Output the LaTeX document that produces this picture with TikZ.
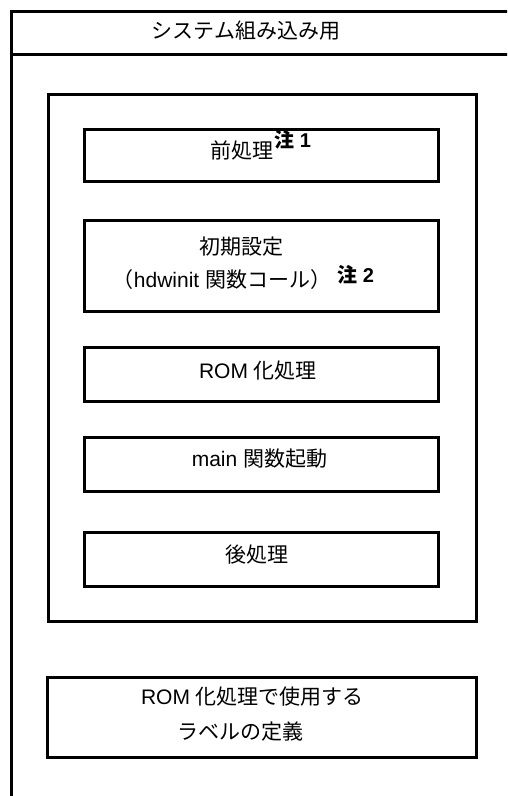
\documentclass[tikz,border=0pt]{standalone}
\usepackage{fontspec}
\setmainfont{Liberation Sans}
\newfontfamily\jp{Noto Sans CJK JP}
\usetikzlibrary{positioning}
\tikzset{
  frame/.style={draw=black,line width=3pt},
  procbox/.style={frame,minimum width=354pt,minimum height=54pt,inner sep=0pt},
  txt/.style={font=\fontsize{21}{25}\selectfont,inner sep=0pt},
  note/.style={font=\fontsize{20}{24}\selectfont\bfseries,inner sep=0pt},
}

\begin{document}
\begin{tikzpicture}[x=1pt,y=-1pt]
\useasboundingbox (0,0) rectangle (507,796);\clip (0,0) rectangle (507,796);
% outer frame, cut by the page
\draw[frame] (11.5,806) -- (11.5,11) -- (517,11);\draw[frame] (11.5,54) -- (517,54);
\node[txt] (title) at (246,31) {\jp システム組み込み用};
% start-up routine
\node[frame,minimum width=428pt,minimum height=527pt,inner sep=0pt] (startup) at (262,357.5) {};
\node[procbox,minimum height=52pt] (pre) at (261,155.5) {};
\node[txt] (pretext) at (242,150) {\jp 前処理};
\node[note,anchor=west] (note1) at (274,140) {{\jp 注} 1};
\node[procbox,minimum height=91pt] (init) at (261,265.5) {};
\node[txt] (inittext) at (241,247) {\jp 初期設定};
\node[txt] (initcall) at (222,280) {{\jp （}hdwinit {\jp 関数コール）}};
\node[note,anchor=west] (note2) at (337,275) {{\jp 注} 2};
\node[procbox] (rom) at (261,374) {};
\node[txt] (romtext) at (258,371) {ROM {\jp 化処理}};
\node[procbox] (main) at (261,464) {};
\node[txt] (maintext) at (259.5,459) {main {\jp 関数起動}};
\node[procbox] (post) at (261,559) {};
\node[txt] (posttext) at (257,555) {\jp 後処理};
% label definitions
\node[frame,minimum width=428.5pt,minimum height=80pt,inner sep=0pt] (labels) at (262,717) {};
\node[txt] (labtext) at (252.5,697) {ROM {\jp 化処理で使用する}};
\node[txt] (labtext2) at (240,732) {\jp ラベルの定義};
\end{tikzpicture}
\end{document}
